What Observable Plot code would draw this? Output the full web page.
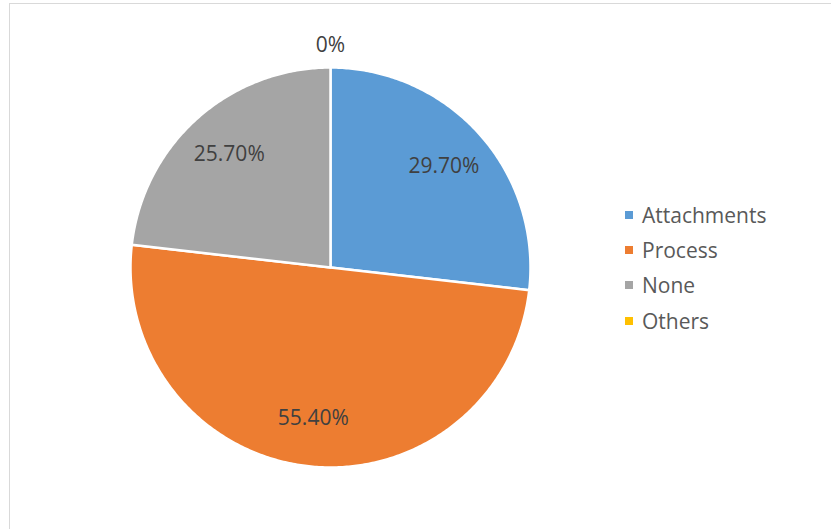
<!DOCTYPE html>
<html>
<head>
<meta charset="utf-8">
<script src="https://cdn.jsdelivr.net/npm/d3@7"></script>
<script src="https://cdn.jsdelivr.net/npm/@observablehq/plot@0.6"></script>
<style>
  html, body { margin: 0; padding: 0; background: #fff; }
  body { width: 831px; height: 529px; position: relative; overflow: hidden; font-family: "Open Sans", sans-serif; }
  #frame { position: absolute; left: 9px; top: 3px; width: 900px; height: 600px; border: 1px solid #d9d9d9; }
  #chart { position: absolute; left: 0; top: 0; }
  #legend { position: absolute; left: 625px; top: 197px; }
  .row { display: flex; align-items: center; height: 35.4px; font-size: 21px; color: #595959; }
  .sw { width: 8px; height: 8px; margin-right: 9px; }
</style>
</head>
<body>
<div id="frame"></div>
<div id="chart"></div>
<div id="legend"></div>
<script>
const categories = ["Attachments", "Process", "None", "Others"];
const values = [29.7, 55.4, 25.7, 0];
const labels = ["29.70%", "55.40%", "25.70%", "0%"];
const colors = ["#5B9BD5", "#ED7D31", "#A5A5A5", "#FFC000"];

const W = 831, H = 529, R = 200, CX = 330, CY = 267;

const arcs = d3.pie().sort(null).value(d => d.value)(
  categories.map((c, i) => ({cat: c, value: values[i], label: labels[i]}))
);

// polygon points for each slice, in unit-radius coordinates (angle clockwise from top)
const pts = [];
arcs.forEach(a => {
  if (a.endAngle - a.startAngle <= 0) return;
  const cat = a.data.cat;
  pts.push({cat, x: 0, y: 0});
  const n = Math.max(2, Math.ceil((a.endAngle - a.startAngle) / 0.01));
  for (let k = 0; k <= n; k++) {
    const t = a.startAngle + (a.endAngle - a.startAngle) * k / n;
    pts.push({cat, x: Math.sin(t), y: Math.cos(t)});
  }
});

const labelPts = arcs.map(a => {
  const m = (a.startAngle + a.endAngle) / 2;
  const r = a.data.value > 0 ? 0.76 : 1.11;
  return {label: a.data.label, x: r * Math.sin(m), y: r * Math.cos(m)};
});

const plot = Plot.plot({
  width: W, height: H,
  margin: 0,
  x: {axis: null, domain: [-CX / R, (W - CX) / R]},
  y: {axis: null, domain: [-(H - CY) / R, CY / R]},
  color: {domain: categories, range: colors},
  style: {fontFamily: "Open Sans", background: "transparent"},
  marks: [
    Plot.line(pts, {x: "x", y: "y", z: "cat", fill: "cat", stroke: "white", strokeWidth: 2.5, curve: "linear-closed", strokeLinejoin: "round"}),
    Plot.text(labelPts, {x: "x", y: "y", text: "label", fontSize: 21, fill: "#404040"})
  ]
});
document.getElementById("chart").appendChild(plot);

const legend = document.getElementById("legend");
categories.forEach((c, i) => {
  const row = document.createElement("div");
  row.className = "row";
  const sw = document.createElement("div");
  sw.className = "sw";
  sw.style.background = colors[i];
  const t = document.createElement("span");
  t.textContent = c;
  row.appendChild(sw); row.appendChild(t);
  legend.appendChild(row);
});
</script>
</body>
</html>
